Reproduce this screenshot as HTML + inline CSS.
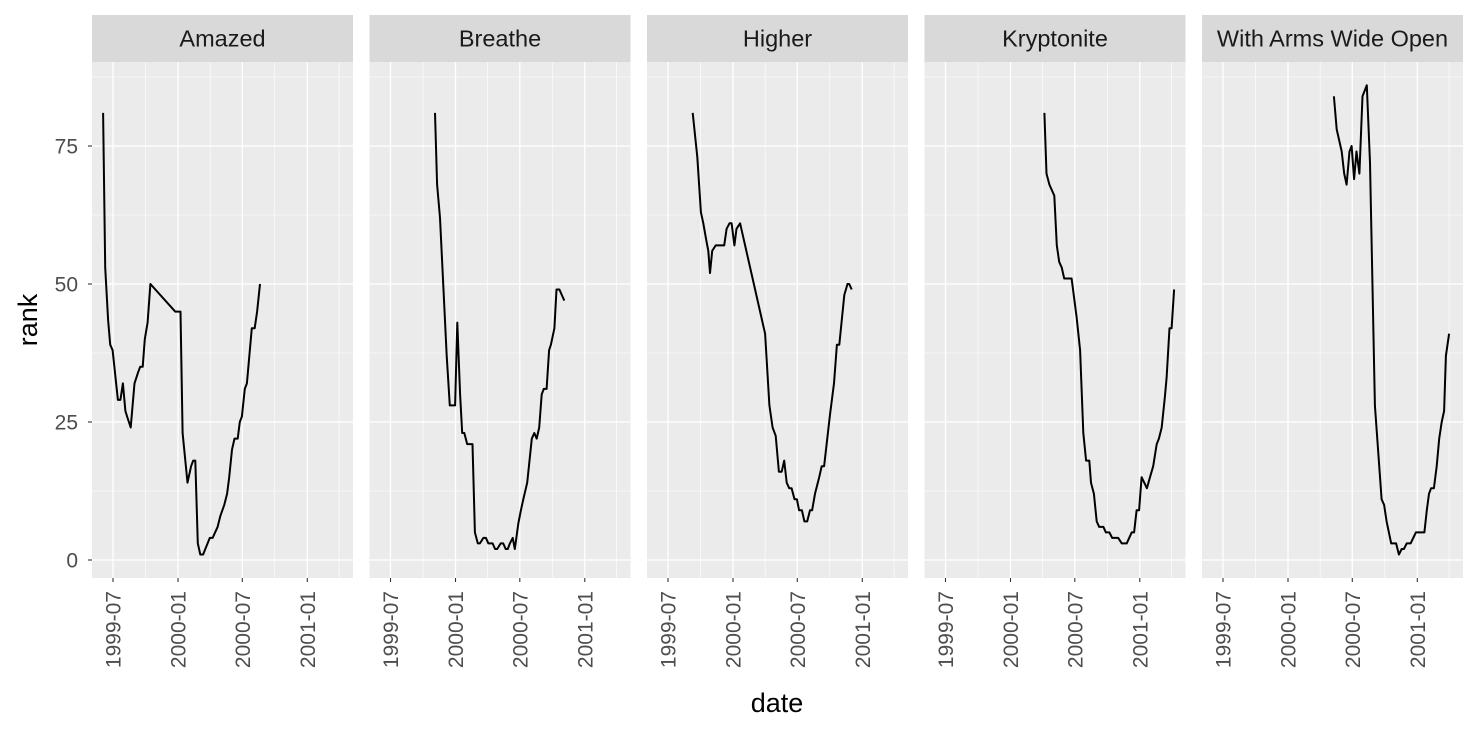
<!DOCTYPE html>
<html><head><meta charset="utf-8"><style>
body{margin:0;background:#fff;}
svg{display:block;font-family:"Liberation Sans",sans-serif;}
</style></head><body>
<svg id="c" width="1478" height="729"></svg>
<script>
const songs = ["Amazed","Breathe","Higher","Kryptonite","With Arms Wide Open"];
const yTicks = [0,25,50,75];
const xTickLabels = ["1999-07","2000-01","2000-07","2001-01"];
// days since 1999-07-01 and rank values per song
const amazedDays = [-28,-22,-14,-8,-1,14,21,28,35,40,50,61,71,77,84,90,98,106,176,191,197,211,221,227,233,240,247,255,274,282,296,304,315,323,329,337,344,353,359,365,373,379,393,401,408,416];
const amazedRank = [81,53,43.5,39,38,29,29,32,27,26,24,32,34,35,35,40,43,50,45,45,23,14,17,18,18,3,1,1,4,4,6,8,10,12,15,20,22,22,25,26,31,32,42,42,45,50];
const breatheDays = [126,132,140,159,168,183,189,197,203,209,217,232,239,247,253,263,270,277,289,296,302,312,319,326,332,338,346,352,362,369,376,387,400,407,414,421,428,434,442,449,454,464,470,478,492];
const breatheRank = [81,68,62,37,28,28,43,30,23,23,21,21,5,3,3,4,4,3,3,2,2,3,3,2,2,3,4,2,6.7,9,11,14,22,23,22,24,30,31,31,38,39,42,49,49,47];
const higherDays = [70,83,93,100,108,114,119,125,135,159,166,174,180,188,194,204,275,287,296,305,314,322,329,336,343,350,358,365,371,379,386,394,402,408,416,428,435,442,459,470,478,485,499,508,513,520];
const higherRank = [81,73,63,61,58,56,52,56,57,57,60,61,61,57,60,61,41,28,24,22.5,16,16,18,14,13,13,11,11,9,9,7,7,9,9,12,15,17,17,26.5,32,39,39,48,50,50,49];
const kryptoniteDays = [280,286,294,308,315,322,329,336,357,371,381,390,398,407,412,420,428,435,447,454,464,472,489,499,513,527,534,541,548,555,570,579,588,598,604,612,621,626,634,640,647];
const kryptoniteRank = [81,70,68,66,57,54,53,51,51,44,38,23,18,18,14,12,7,6,6,5,5,4,4,3,3,5,5,9,9,15,13,15,17,21,22,24,29.6,33,42,42,49];
const armsDays = [314,322,336,343,350,358,364,371,378,386,395,407,416,430,449,456,463,476,490,498,506,512,520,531,546,570,577,583,589,597,605,612,619,626,631,640];
const armsRank = [84,78,74,70,68,74,75,69,74,70,84,86,72,28,11,10,7,3,3,1,2,2,3,3,5,5,9,12,13,13,17,22,25,27,37,41];
const seriesDays = [amazedDays,breatheDays,higherDays,kryptoniteDays,armsDays];
const seriesRank = [amazedRank,breatheRank,higherRank,kryptoniteRank,armsRank];

const NS="http://www.w3.org/2000/svg";
const svg=document.getElementById('c');
function mk(tag,attrs,parent){const e=document.createElementNS(NS,tag);for(const k in attrs)e.setAttribute(k,attrs[k]);(parent||svg).appendChild(e);return e;}
const panelLefts=[92,369.5,647,924.5,1202], panelW=261, pTop=62, pBottom=578;
const kx=0.35326;
const tickFont=21;
const dayOf=s=>{const [y,m]=s.split('-').map(Number);return (Date.UTC(y,m-1,1)-Date.UTC(1999,6,1))/86400000;};
const yS=r=>560-r*5.52;
const minorX=["1999-04","1999-10","2000-04","2000-10","2001-04"];
const minorY=[12.5,37.5,62.5,87.5];

panelLefts.forEach((L,i)=>{
  const xS=d=>L+21+d*kx;
  const g=mk('g',{});
  
  
  mk('rect',{x:L,y:15,width:panelW,height:47,fill:'#d9d9d9'},g);
  const st=mk('text',{x:L+panelW/2,y:46.5,'text-anchor':'middle','font-size':'23.5','fill':'#1a1a1a'},g);
  st.textContent=songs[i];
  
  
  mk('rect',{x:L,y:pTop,width:panelW,height:pBottom-pTop,fill:'#ebebeb'},g);
  const clip='cp'+i;
  const cp=mk('clipPath',{id:clip},g);mk('rect',{x:L,y:pTop,width:panelW,height:pBottom-pTop},cp);
  minorY.forEach(v=>mk('line',{x1:L,x2:L+panelW,y1:yS(v),y2:yS(v),stroke:'#fff','stroke-width':0.6},g));
  minorX.forEach(s=>{const x=xS(dayOf(s));if(x>L&&x<L+panelW)mk('line',{x1:x,x2:x,y1:pTop,y2:pBottom,stroke:'#fff','stroke-width':0.6},g);});
  yTicks.forEach(v=>mk('line',{x1:L,x2:L+panelW,y1:yS(v),y2:yS(v),stroke:'#fff','stroke-width':1.3},g));
  xTickLabels.forEach(s=>{
    const x=xS(dayOf(s));
    mk('line',{x1:x,x2:x,y1:pTop,y2:pBottom,stroke:'#fff','stroke-width':1.3},g);
    mk('line',{x1:x,x2:x,y1:pBottom,y2:pBottom+4,stroke:'#333','stroke-width':1.1},g);
    const t=mk('text',{transform:`translate(${x+tickFont*0.36},${pBottom+13}) rotate(-90)`,'text-anchor':'end','font-size':tickFont,'fill':'#4d4d4d'},g);
    t.textContent=s;
    
    
  });
  const pts=seriesDays[i].map((d,j)=>xS(d).toFixed(1)+','+yS(seriesRank[i][j]).toFixed(1)).join(' ');
  const pl=mk('polyline',{points:pts,fill:'none',stroke:'#000','stroke-width':2,'stroke-linejoin':'round','clip-path':`url(#${clip})`},g);
  
  
});
yTicks.forEach(v=>{
  mk('line',{x1:88,x2:92,y1:yS(v),y2:yS(v),stroke:'#333','stroke-width':1.1});
  const t=mk('text',{x:78,y:yS(v)+tickFont*0.36,'text-anchor':'end','font-size':tickFont,'fill':'#4d4d4d'});
  t.textContent=v;
  
  
});
const xt=mk('text',{x:777,y:712,'text-anchor':'middle','font-size':'27','fill':'#000'});
xt.textContent='date';


const yt=mk('text',{transform:'translate(37,320) rotate(-90)','text-anchor':'middle','font-size':'27','fill':'#000'});
yt.textContent='rank';


</script>
</body></html>
